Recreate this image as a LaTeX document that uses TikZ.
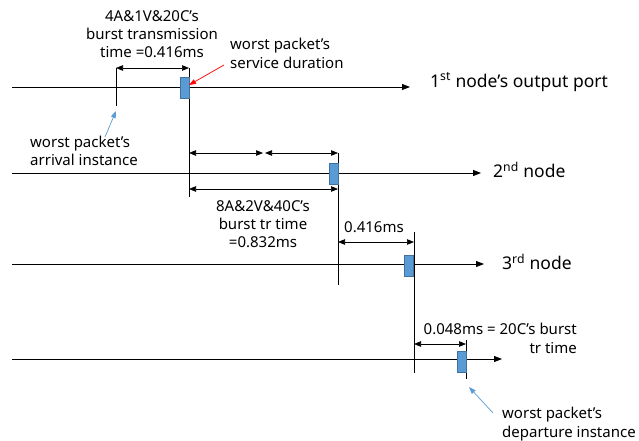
\documentclass[tikz,border=0pt]{standalone}
\usepackage{fontspec}
\setmainfont{Noto Sans}
\usetikzlibrary{arrows.meta}
\definecolor{pktfill}{RGB}{91,155,213}
\definecolor{pktedge}{RGB}{65,113,156}
\definecolor{noteblue}{RGB}{91,155,213}
\begin{document}
\begin{tikzpicture}[x=1pt,y=-1pt,
  tline/.style={line width=0.8pt,-{Triangle[length=8pt,width=6pt]}},
  vline/.style={line width=0.7pt},
  dimline/.style={line width=0.7pt,{Triangle[length=7pt,width=5.5pt]}-{Triangle[length=7pt,width=5.5pt]}},
  pkt/.style={draw=pktedge,fill=pktfill,line width=0.5pt,minimum width=9pt,minimum height=21pt,inner sep=0pt},
  lbl/.style={font=\fontsize{15}{18.3}\selectfont,inner sep=0pt},
  big/.style={font=\fontsize{17.5}{20}\selectfont,inner sep=0pt},
  note/.style={line width=0.7pt,-{Triangle[length=7pt,width=5pt]}}]
\useasboundingbox (0,0) rectangle (639,441);

% four time lines
\coordinate (t1s) at (12,87);   \coordinate (t1e) at (410,87);
\coordinate (t2s) at (12,173);  \coordinate (t2e) at (481,173);
\coordinate (t3s) at (12,264);  \coordinate (t3e) at (484,264);
\coordinate (t4s) at (12,359);  \coordinate (t4e) at (502,359);
\draw[tline] (t1s) -- (t1e);
\draw[tline] (t2s) -- (t2e);
\draw[tline] (t3s) -- (t3e);
\draw[tline] (t4s) -- (t4e);

\node[big,anchor=west] (n1) at (430,82) {1\textsuperscript{st} node's output port};
\node[big,anchor=west] (n2) at (493,170) {2\textsuperscript{nd} node};
\node[big,anchor=west] (n3) at (502,262) {3\textsuperscript{rd} node};

% vertical instants
\coordinate (a1) at (116,68);  \coordinate (a2) at (116,106);
\coordinate (b1) at (189,68);  \coordinate (b2) at (189,197);
\coordinate (c1) at (338,153); \coordinate (c2) at (338,285);
\coordinate (d1) at (414,232); \coordinate (d2) at (414,373);
\coordinate (e1) at (466,340); \coordinate (e2) at (466,379);
\draw[vline] (a1) -- (a2);
\draw[vline] (b1) -- (b2);
\draw[vline] (c1) -- (c2);
\draw[vline] (d1) -- (d2);
\draw[vline] (e1) -- (e2);

% worst packet on each hop
\node[pkt] (p1) at (184.5,88) {};
\node[pkt] (p2) at (333.5,173.5) {};
\node[pkt] (p3) at (409,265.5) {};
\node[pkt] (p4) at (461.5,361.5) {};

% dimension arrows
\coordinate (m1) at (189,153); \coordinate (m2) at (263,153);
\coordinate (m3) at (265,153); \coordinate (m4) at (338,153);
\coordinate (k1) at (189,189); \coordinate (k2) at (338,189);
\coordinate (r1) at (338,242); \coordinate (r2) at (414,242);
\coordinate (s1) at (414,344); \coordinate (s2) at (466,344);
\draw[dimline] (a1) -- (b1);
\draw[dimline] (m1) -- (m2);
\draw[dimline] (m3) -- (m4);
\draw[dimline] (k1) -- (k2);
\draw[dimline] (r1) -- (r2);
\draw[dimline] (s1) -- (s2);

% labels
\node[lbl,align=center] (burst1) at (152,34) {4A\&1V\&20C's\\burst transmission\\time =0.416ms};
\node[lbl,align=left,anchor=west] (serv) at (230,53.5) {worst packet’s\\service duration};
\node[lbl,align=left,anchor=west] (arr) at (30,151) {worst packet’s\\arrival instance};
\node[lbl,align=center] (burst2) at (263,224) {8A\&2V\&40C’s\\burst tr time\\=0.832ms};
\node[lbl] (q3) at (374,227) {0.416ms};
\node[lbl,align=right,anchor=east] (q4) at (577,338.5) {0.048ms = 20C’s burst\\tr time};
\node[lbl,align=left,anchor=west] (dep) at (502,424) {worst packet’s\\departure instance};

% callout arrows
\coordinate (ra) at (224,65);   \coordinate (rb) at (189,85);
\coordinate (ba) at (105,137);  \coordinate (bb) at (116,111);
\coordinate (da) at (493,413);  \coordinate (db) at (469,387);
\draw[note,red] (ra) -- (rb);
\draw[note,noteblue] (ba) -- (bb);
\draw[note,noteblue] (da) -- (db);
\end{tikzpicture}
\end{document}
